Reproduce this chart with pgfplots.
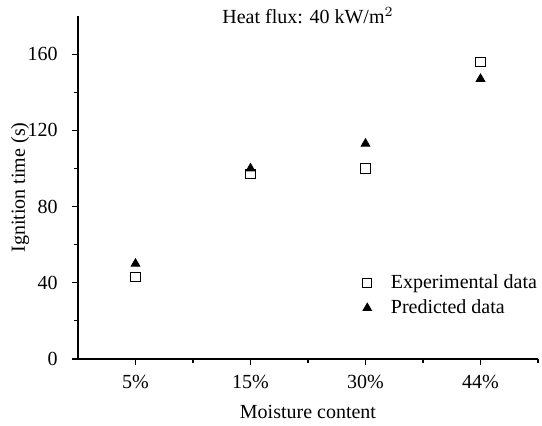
\documentclass[border=0pt]{standalone}
\usepackage{pgfplots}
\pgfplotsset{compat=1.18}
\usepackage{fontspec}
\setmainfont{Liberation Serif}
\begin{document}
\begin{tikzpicture}
\path[use as bounding box] (-39pt,-33.5pt) rectangle (232pt,179.5pt);
\begin{axis}[
  at={(0pt,0pt)}, anchor=south west,
  scale only axis,
  width=230pt, height=171.5pt,
  xmin=-0.5, xmax=3.5, ymin=0, ymax=180,
  axis x line*=bottom, axis y line*=left,
  axis line style={line width=0.6pt},
  xtick={0,1,2,3},
  xticklabels={5\%,15\%,30\%,44\%},
  minor xtick={0.5,1.5,2.5,3.5},
  ytick={0,40,80,120,160},
  minor ytick={20,60,100,140},
  tick align=outside,
  major tick length=3.2pt, minor tick length=1.8pt,
  tick style={black, line width=0.6pt},
  /pgf/number format/assume math mode=true,
  tick label style={font=\fontsize{10}{12}\selectfont},
  xticklabel style={anchor=center, yshift=-8.5pt},
  yticklabel style={anchor=east, xshift=-3.5pt},
  xticklabel shift=0pt, yticklabel shift=0pt,
  label style={font=\fontsize{10}{12}\selectfont},
  xlabel={Moisture content},
  ylabel={Ignition time (s)},
  xlabel style={at={(rel axis cs:0.5,0)}, anchor=center, yshift=-26.5pt},
  ylabel style={at={(rel axis cs:0,0.5)}, anchor=center, yshift=29pt},
  legend style={draw=none, fill=none, font=\fontsize{10}{12}\selectfont,
    at={(rel axis cs:0.605,0.27)}, anchor=north west, row sep=0pt, column sep=7.5pt},
  legend cell align=left,
  clip=false,
]
\addplot[only marks, mark=square, mark size=2.3pt, mark options={black, line width=0.5pt}]
  coordinates {(0,43) (1,97) (2,100) (3,156)};
\addlegendentry{Experimental data}
\addplot[only marks, mark=triangle*, mark size=2.5pt, mark options={black, fill=black}]
  coordinates {(0,50) (1,100) (2,113) (3,147)};
\addlegendentry{Predicted data}
\node[font=\fontsize{10}{12}\selectfont, anchor=center] at (rel axis cs:0.5,1) {Heat flux: 40 kW/m$^2$};
\end{axis}
\end{tikzpicture}
\end{document}
